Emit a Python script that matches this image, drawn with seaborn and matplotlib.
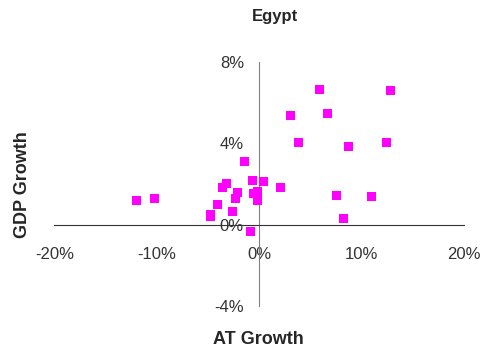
import matplotlib
matplotlib.use("Agg")
import matplotlib.pyplot as plt
import seaborn as sns
import pandas as pd
from matplotlib.ticker import PercentFormatter

# AT growth vs GDP growth (percent)
at_growth = [-12.0, -10.2, -4.8, -4.75, -4.1, -3.6, -3.2, -2.65, -2.3, -2.1,
             -1.45, -0.9, -0.65, -0.6, -0.2, -0.15, 0.4, 2.1, 3.1, 3.8,
             5.9, 6.7, 7.5, 8.2, 8.7, 10.95, 12.45, 12.8]
gdp_growth = [1.2, 1.3, 0.4, 0.52, 0.98, 1.83, 2.02, 0.65, 1.29, 1.58,
              3.09, -0.33, 2.2, 1.55, 1.21, 1.62, 2.14, 1.83, 5.37, 4.07,
              6.68, 5.47, 1.45, 0.31, 3.87, 1.39, 4.03, 6.63]

x_ticks = [-20, -10, 0, 10, 20]
y_ticks = [-4, 0, 4, 8]

df = pd.DataFrame({"AT": at_growth, "GDP": gdp_growth})

sns.set_style("white")
plt.rcParams["font.family"] = ["Liberation Sans", "DejaVu Sans"]
plt.rcParams["axes.unicode_minus"] = False

fig = plt.figure(figsize=(4.85, 3.54), dpi=100)
ax = fig.add_axes([0.112, 0.136, 0.845, 0.688])

sns.scatterplot(data=df, x="AT", y="GDP", marker="s", color="#FF00FF",
                s=42, edgecolor="none", ax=ax, zorder=3)

ax.set_xlim(-20, 20)
ax.set_ylim(-4, 8)
ax.set_xticks(x_ticks)
ax.set_yticks(y_ticks)
ax.xaxis.set_major_formatter(PercentFormatter(decimals=0))
ax.yaxis.set_major_formatter(PercentFormatter(decimals=0))

ax.spines["left"].set_position(("data", 0))
ax.spines["bottom"].set_position(("data", 0))
ax.spines["right"].set_visible(False)
ax.spines["top"].set_visible(False)
ax.spines["left"].set_color("#808080")
ax.spines["bottom"].set_color("#333333")
ax.spines["left"].set_zorder(1)
ax.spines["bottom"].set_zorder(1)

ax.tick_params(axis="x", direction="out", length=4, color="#333333",
               pad=12, labelsize=12, labelcolor="#333333")
ax.tick_params(axis="y", direction="out", length=4, color="#808080",
               pad=7, labelsize=12, labelcolor="#333333")
ax.set_xlabel("")
ax.set_ylabel("")

fig.text(0.567, 0.952, "Egypt", ha="center", va="center",
         fontsize=12, fontweight="bold")
fig.text(0.532, 0.042, "AT Growth", ha="center", va="center",
         fontsize=13, fontweight="bold")
fig.text(0.046, 0.478, "GDP Growth", ha="center", va="center",
         rotation=90, fontsize=13, fontweight="bold")

fig.savefig("out.png", dpi=100)
